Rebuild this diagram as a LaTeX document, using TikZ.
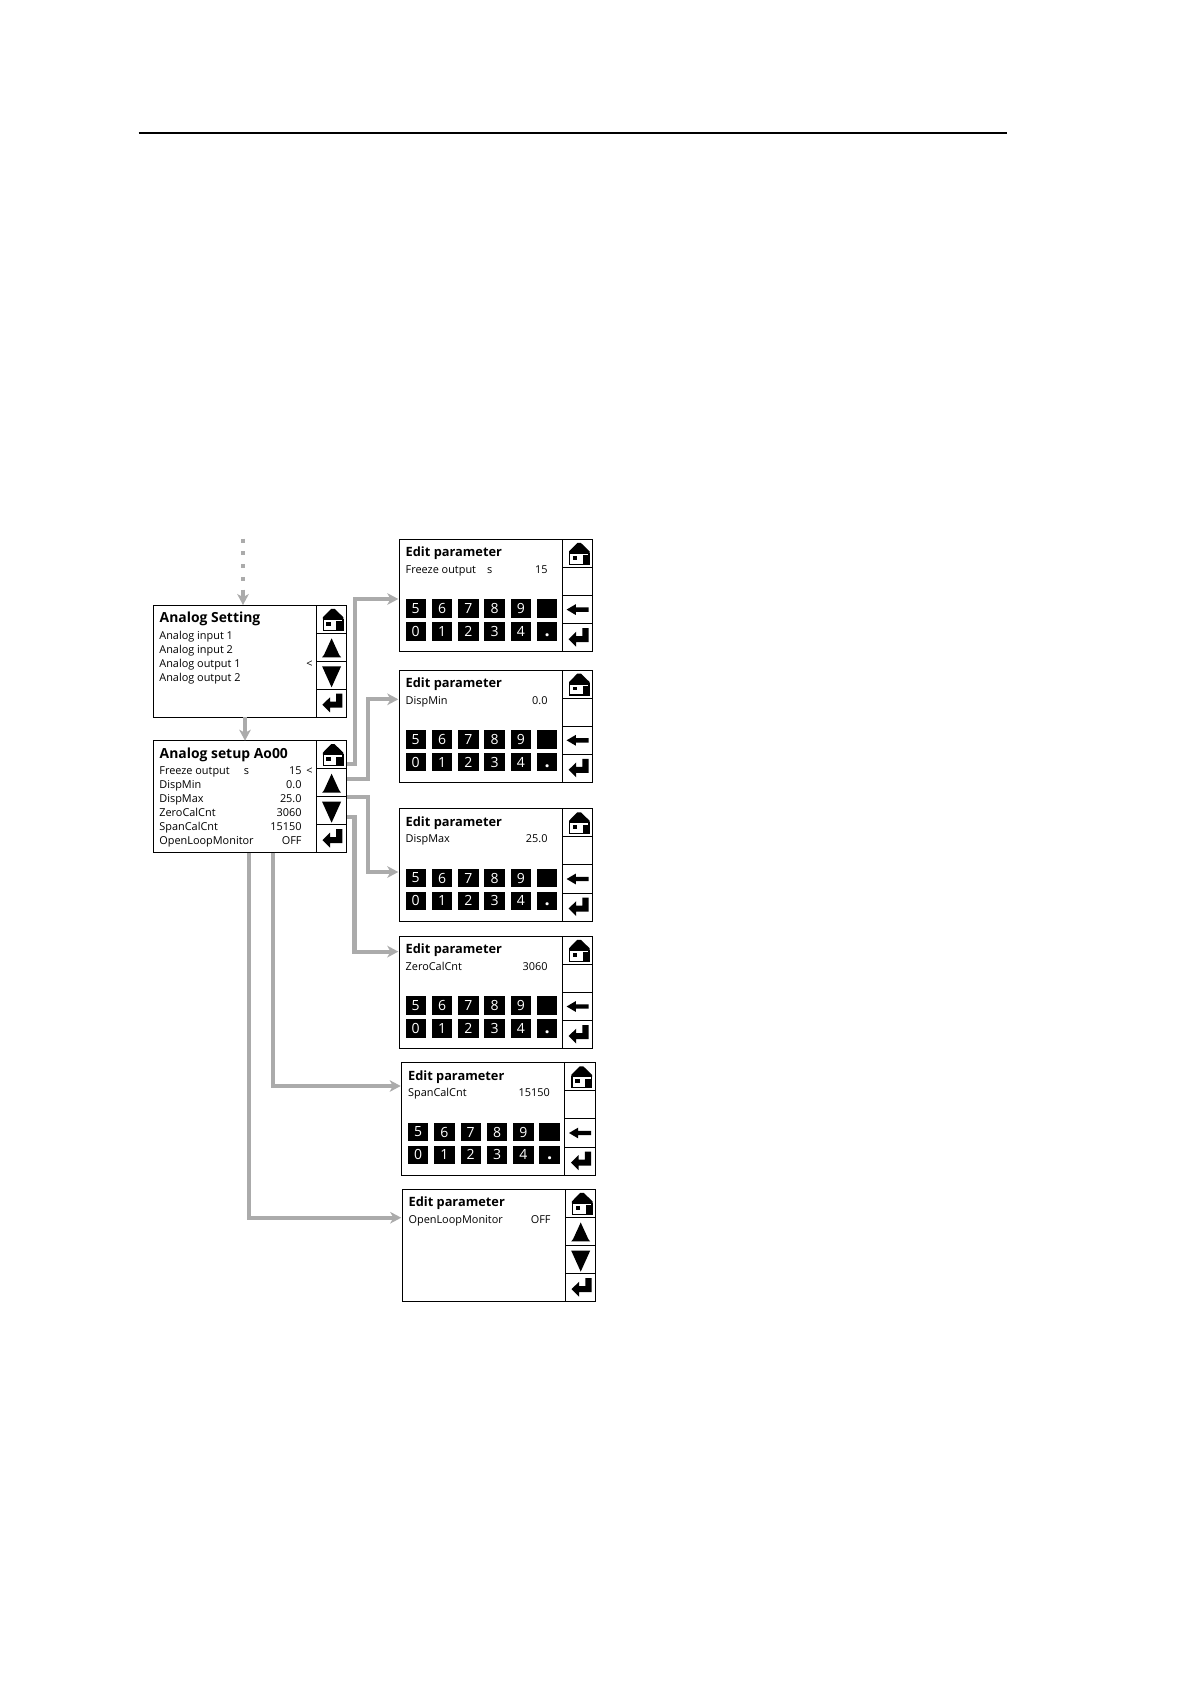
\documentclass[tikz,border=0pt]{standalone}
\usepackage{fontspec}
\setmainfont{Open Sans}
\usetikzlibrary{arrows.meta,calc}
\definecolor{flowgray}{gray}{0.67}
\tikzset{
	panel/.style={draw, line width=0.5pt, anchor=north west, outer sep=0pt, minimum width=193.4*0.5pt, minimum height=112.5*0.5pt, inner sep=0pt},
	btn/.style={draw, line width=0.5pt, anchor=north west, outer sep=0pt, minimum width=30.2*0.5pt, minimum height=28.1*0.5pt, inner sep=0pt},
	keybox/.style={fill=black, text=white, anchor=north west, minimum width=20.4*0.5pt, minimum height=18.4*0.5pt, inner sep=0pt, font=\fontsize{7}{7}\selectfont},
	title/.style={anchor=base west, inner sep=0pt, font=\fontsize{6.4}{7}\selectfont\bfseries},
	bigtitle/.style={title, font=\fontsize{6.95}{7}\selectfont\bfseries},
	entry/.style={anchor=base west, inner sep=0pt, font=\fontsize{5.45}{6}\selectfont},
	value/.style={anchor=base east, inner sep=0pt, font=\fontsize{5.45}{6}\selectfont},
	flow/.style={draw=flowgray, line width=2.1pt, -{Stealth[length=5.5pt,width=5.8pt,inset=1.6pt]}},
	homeicon/.pic={
		\fill (-0.2,-10.5) -- (3.2,-10.5) -- (12,-2) -- (12,0) -- (-8.6,0) -- (-8.6,-2) -- cycle;
		\draw[line width=0.7pt] (-8,0) rectangle (11.4,11);
		\fill (-5,2.6) rectangle (-0.4,6.4);
		\fill (5,2) rectangle (11.4,11.3);
	},
	upicon/.pic={
		\fill (0.2,-9) -- (-7.4,7.6) -- (-9.3,10) -- (9.7,10) -- (7.8,7.6) -- cycle;
	},
	downicon/.pic={
		\fill (-9.3,-9) -- (9.7,-9) -- (0.2,12) -- cycle;
	},
	entericon/.pic={
		\fill (11,-9.6) -- (11,4.4) -- (-1.4,4.4) -- (-1.4,9) -- (-9,1.4) -- (-1.4,-6) -- (-1.4,-1.6) -- (4.8,-1.6) -- (4.8,-9.6) -- cycle;
	},
	lefticon/.pic={
		\fill (-11,0) -- (-1.8,-5.4) -- (-1.8,-2.2) -- (11,-2.2) -- (11,2.2) -- (-1.8,2.2) -- (-1.8,5.4) -- cycle;
	}
}

\begin{document}
\begin{tikzpicture}[x=0.5pt, y=-0.5pt]
	\useasboundingbox (0,0) rectangle (1191,1684);
	\draw[line width=0.75pt] (138.5,133) -- (1007,133);
	% ---- menu panels on the left ----
	\node[panel, minimum height=112*0.5pt] (setting) at (153.4,605.3) {};
	\node[bigtitle] (settingtitle) at (159.3,622.7) {Analog Setting};
	\foreach \i/\t in {1/Analog input 1, 2/Analog input 2, 3/Analog output 1, 4/Analog output 2}
		\node[entry] (settingline\i) at (159,{625.3+14*\i}) {\t};
	\node[value] (settingmark) at (313,667.3) {<};
	\node[panel, minimum height=112*0.5pt] (setup) at (153.4,740.7) {};
	\node[bigtitle] (setuptitle) at (159.3,758.1) {Analog setup Ao00};
	\foreach \i/\t/\v in {1/Freeze output/15, 2/DispMin/0.0, 3/DispMax/25.0, 4/ZeroCalCnt/3060, 5/SpanCalCnt/15150, 6/OpenLoopMonitor/OFF} {
		\node[entry] (setupline\i) at (159,{760.7+14*\i}) {\t};
		\node[value] (setupval\i) at (302,{760.7+14*\i}) {\v};
	}
	\node[entry] (setupunit) at (243.5,774.7) {s};
	\node[value] (setupmark) at (313,774.7) {<};
	% ---- buttons of the menu panels ----
	\foreach \p/\py in {setting/605.3, setup/740.7} {
		\foreach \r/\ic in {0/homeicon, 1/upicon, 2/downicon, 3/entericon} {
			\node[btn, minimum height=28*0.5pt] (\p btn\r) at (316.3,{\py+28*\r}) {};
			\pic at (\p btn\r.center) {\ic};
		}
	}
	% ---- edit panels with keypad ----
	\foreach \n/\ex/\ey/\et/\eu/\ev in {1/399.3/539.3/Freeze output/s/15, 2/399.3/670/DispMin//0.0, 3/399.3/808.7/DispMax//25.0, 4/399.3/936.2/ZeroCalCnt//3060, 5/401.7/1062.7/SpanCalCnt//15150} {
		\begin{scope}[shift={(\ex,\ey)}]
			\node[panel] (edit\n) at (0,0) {};
			\node[title] (edit\n title) at (6,17.4) {Edit parameter};
			\node[entry] (edit\n line) at (6,34) {\et};
			\node[entry] (edit\n unit) at (87.5,34) {\eu};
			\node[value] (edit\n val) at (148.6,34) {\ev};
			\foreach \r in {0,...,3}
				\node[btn] (edit\n btn\r) at (163.2,{28.125*\r}) {};
			\pic at (edit\n btn0.center) {homeicon};
			\pic at (edit\n btn2.center) {lefticon};
			\pic at (edit\n btn3.center) {entericon};
			\foreach \k/\d in {0/5, 1/6, 2/7, 3/8, 4/9, 5/{}}
				\node[keybox] (edit\n keya\k) at ({5.8+26.3*\k},59.7) {\d};
			\foreach \k/\d in {0/0, 1/1, 2/2, 3/3, 4/4}
				\node[keybox] (edit\n keyb\k) at ({5.8+26.3*\k},82.6) {\d};
			\node[keybox] (edit\n keyb5) at ({5.8+26.3*5},82.6) {\raisebox{-2.4pt}[0pt][0pt]{\fontsize{9}{9}\selectfont\bfseries .}};
		\end{scope}
	}
	% ---- last panel has no keypad ----
	\node[panel] (edit6) at (402.2,1189.3) {};
	\node[title] (edit6title) at (408.2,1206.7) {Edit parameter};
	\node[entry] (edit6line) at (408.2,1223.3) {OpenLoopMonitor};
	\node[value] (edit6val) at (551,1223.3) {OFF};
	\foreach \r/\ic in {0/homeicon, 1/upicon, 2/downicon, 3/entericon} {
		\node[btn] (edit6btn\r) at (565.4,{1189.3+28.125*\r}) {};
		\pic at (edit6btn\r.center) {\ic};
	}
	% ---- grey flow arrows ----
	\coordinate (start) at (243,538.7);
	\coordinate (intop) at (243,605);
	\draw[flowgray, line width=2.1pt, dash pattern=on 2pt off 4.35pt] (start) -- (243,594);
	\draw[flow] (243,594) -- (intop);
	\draw[flow] (setting.south -| 245,0) -- (setup.north -| 245,0);
	\coordinate (outa) at (347,764.3);
	\coordinate (outb) at (347,779);
	\coordinate (outc) at (347,796.7);
	\coordinate (outd) at (347,816.7);
	\coordinate (ina) at ($(edit1.north west)+(-1,59.7)$);
	\coordinate (inb) at ($(edit2.north west)+(-1,29.3)$);
	\coordinate (inc) at ($(edit3.north west)+(-1,63.3)$);
	\coordinate (ind) at ($(edit4.north west)+(-1,15.4)$);
	\coordinate (ine) at ($(edit5.north west)+(-1,23.3)$);
	\coordinate (inf) at ($(edit6.north west)+(-1,28.4)$);
	\draw[flow] (outa) -- (355,764.3) |- (ina);
	\draw[flow] (outb) -- (368.3,779) |- (inb);
	\draw[flow] (outc) -- (368.3,796.7) |- (inc);
	\draw[flow] (outd) -- (354.5,816.7) |- (ind);
	\draw[flow] (setup.south -| 273.3,0) |- (ine);
	\draw[flow] (setup.south -| 248.7,0) |- (inf);
\end{tikzpicture}
\end{document}
